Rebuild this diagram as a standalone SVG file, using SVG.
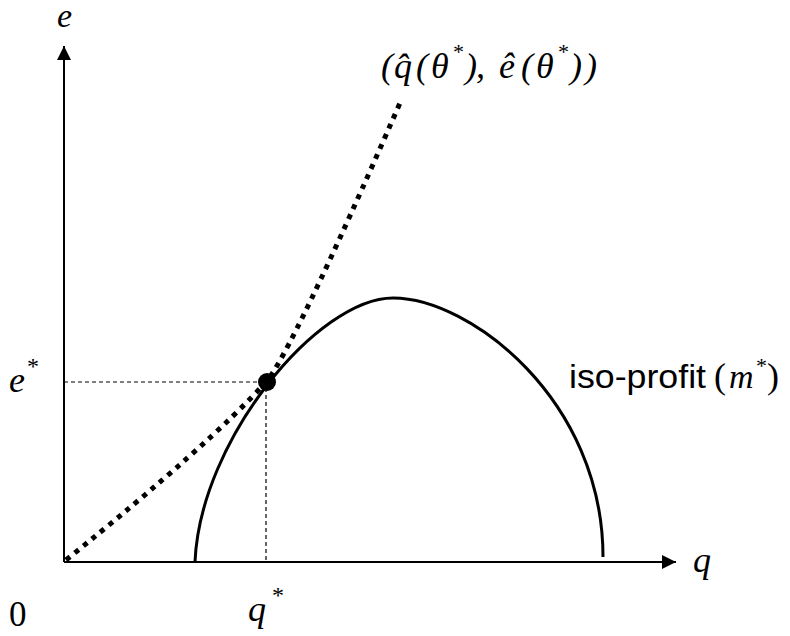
<svg xmlns="http://www.w3.org/2000/svg" width="790" height="636" viewBox="0 0 790 636">
<style>
.math{font-family:"Liberation Serif","Times New Roman",serif;font-style:italic;fill:#000}
.rm{font-family:"Liberation Serif","Times New Roman",serif;fill:#000}
.sans{font-family:"Liberation Sans",Arial,sans-serif;fill:#000}
.axis{stroke:#000;stroke-width:2;fill:none}
.guide{stroke:#000;stroke-width:1.2;stroke-dasharray:4 3;fill:none}
.curve{stroke:#000;stroke-width:3;fill:none}
.dotted{stroke:#000;stroke-width:5;stroke-dasharray:5 6;fill:none}
</style>
<defs>
<marker id="arr" markerUnits="userSpaceOnUse" markerWidth="14" markerHeight="14" viewBox="0 0 12 12" refX="12" refY="6" orient="auto">
<path d="M0,0 L12,6 L0,12 Z" fill="#000"/>
</marker>
</defs>
<rect width="790" height="636" fill="#fff"/>
<g id="connectors">
<line class="axis" x1="64" y1="562" x2="64" y2="46" marker-end="url(#arr)"/>
<line class="axis" x1="64" y1="562" x2="676" y2="562" marker-end="url(#arr)"/>
<line class="guide" x1="64" y1="382" x2="260" y2="382"/>
<line class="guide" x1="266" y1="388" x2="266" y2="562"/>
</g>
<g id="iso-profit-curve">
<path class="curve" d="M195,562 C200,440 318,298 393,298 C470,298 603,400 603,557"/>
</g>
<g id="path-curve">
<path class="dotted" d="M66,560 Q210,444 266,382 Q290,355 400,103"/>
</g>
<g id="optimum">
<circle cx="267" cy="382" r="9" fill="#000"/>
</g>
<g id="labels">
<text class="math" x="57" y="27" font-size="34">e</text>
<text class="math" x="9" y="392" font-size="36">e</text>
<text class="rm" x="27" y="374" font-size="24">*</text>
<text class="math" x="693" y="572" font-size="36">q</text>
<text class="rm" x="9" y="626" font-size="35">0</text>
<text class="math" x="248" y="621" font-size="36">q</text>
<text class="rm" x="272" y="603" font-size="24">*</text>
<text class="math" font-size="36" y="78"><tspan class="rm" x="381">(</tspan><tspan x="394">q&#770;</tspan><tspan class="rm" x="416">(</tspan><tspan x="431">θ</tspan><tspan class="rm" x="452" y="59" font-size="22">*</tspan><tspan class="rm" x="465" y="78">)</tspan><tspan class="rm" x="476">,</tspan><tspan x="499">e&#770;</tspan><tspan class="rm" x="521">(</tspan><tspan x="536">θ</tspan><tspan class="rm" x="557" y="59" font-size="22">*</tspan><tspan class="rm" x="570" y="78">)</tspan><tspan class="rm" x="585">)</tspan></text>
<text class="sans" x="569" y="388" font-size="34" textLength="137" lengthAdjust="spacingAndGlyphs">iso-profit</text>
<text class="rm" x="714" y="388" font-size="36">(</text>
<text class="math" x="729" y="388" font-size="34">m</text>
<text class="rm" x="756" y="373" font-size="22">*</text>
<text class="rm" x="767" y="388" font-size="36">)</text>
</g>
</svg>
